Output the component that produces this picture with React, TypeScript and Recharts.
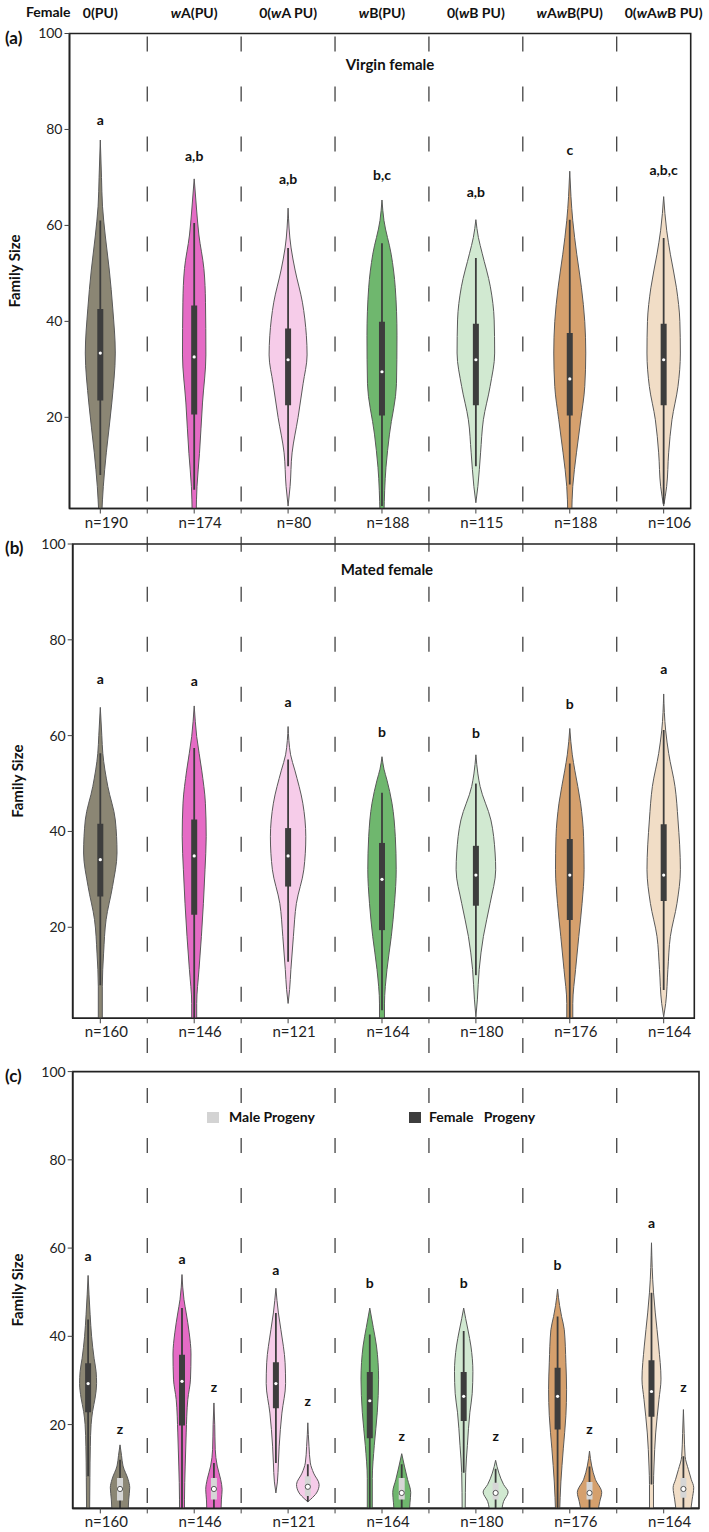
import React from 'react';
import {
  ComposedChart,
  Area,
  Line,
  Scatter,
  XAxis,
  YAxis,
  ReferenceLine,
  ReferenceArea,
} from 'recharts';

const FONT = 'Lato, "Open Sans", Arial, sans-serif';

const groupLabels = ['0(PU)', 'wA(PU)', '0(wA PU)', 'wB(PU)', '0(wB PU)', 'wAwB(PU)', '0(wAwB PU)'];
const violinFills = ['#8b8674', '#e56bc5', '#f6cce9', '#6fb76e', '#d1e9d1', '#d5a06d', '#f1ddc6'];

// (a) virgin females
const virginN = [190, 174, 80, 188, 115, 188, 106];
const virginLetters = ['a', 'a,b', 'a,b', 'b,c', 'a,b', 'c', 'a,b,c'];
const virginLetterAt = [82, 74.5, 69.7, 70.6, 67, 75.8, 71.6];
// [lower whisker, Q1, median, Q3, upper whisker]
const virginStats = [
  [8, 23.5, 33.4, 42.6, 61],
  [4.9, 20.6, 32.6, 43.3, 60.5],
  [9.8, 22.5, 32, 38.5, 55.3],
  [1.5, 20.4, 29.5, 39.9, 56.3],
  [9.8, 22.5, 32, 39.5, 53.2],
  [6, 20.4, 28, 37.6, 61.2],
  [2, 22.5, 32, 39.5, 57.4],
];
// violin outlines: [family size, half width]
const virginShapes = [
  [[0, 1.5], [5.6, 3], [12.6, 6], [23, 11.5], [33.4, 15], [42.6, 12.5], [50.7, 9], [57.8, 5], [64, 2.2], [70, 1.2], [77.8, 0]],
  [[0, 2], [5.6, 2.8], [12.5, 5.3], [23, 8.3], [33, 11.7], [44, 11.3], [51, 9.7], [58, 4.7], [63, 2.5], [69.7, 0]],
  [[1.5, 0], [5.6, 2], [12.6, 4], [20, 10], [27, 15], [33, 19], [37, 18.3], [44, 14.3], [50.7, 7], [55.3, 3], [63.6, 0]],
  [[0, 2], [9.6, 4], [16.5, 7.5], [27, 14.5], [37, 15], [47, 13.3], [54, 9.2], [61, 2], [65.3, 0]],
  [[2.2, 0], [5.6, 2], [12.6, 4.7], [19.5, 7.5], [26.4, 14.2], [33.4, 18.8], [40.3, 18.3], [47.2, 14.5], [54.2, 6.3], [57.5, 2.5], [61.2, 0]],
  [[0, 2], [5.6, 3], [12.6, 6.7], [19.5, 11], [26.4, 15], [33.4, 16], [40, 15], [47, 11.7], [54, 7], [61, 3], [66, 1.2], [71.3, 0]],
  [[1.5, 0], [5.6, 3], [12.6, 5], [19.5, 8.3], [26.4, 14.3], [33.4, 16.7], [40, 16.2], [47, 12.8], [54, 6.7], [59, 3], [66, 0]],
];

// (b) mated females
const matedN = [160, 146, 121, 164, 180, 176, 164];
const matedLetters = ['a', 'a', 'a', 'b', 'b', 'b', 'a'];
const matedLetterAt = [71.8, 71.3, 67.1, 60.8, 60.6, 66.6, 73.9];
const matedStats = [
  [7.9, 26.4, 34.1, 41.6, 56.3],
  [1, 22.6, 34.9, 42.5, 57.4],
  [12.8, 28.5, 34.9, 40.7, 55],
  [2.7, 19.4, 30, 37.6, 48.1],
  [10, 24.5, 30.9, 37, 50],
  [1, 21.5, 30.9, 38.4, 54.2],
  [6.9, 25.5, 30.9, 41.5, 61.2],
];
const matedShapes = [
  [[0, 2], [7.7, 2], [14.6, 3.3], [21.6, 5.8], [28.5, 12.2], [35.5, 16.7], [42.4, 15], [49.4, 7.5], [56.3, 2.5], [60, 1.5], [65.9, 0]],
  [[0, 2.5], [4.1, 2.5], [11.2, 4.8], [18.1, 7.2], [25, 9.2], [32, 10.8], [38.9, 12], [45.9, 11.2], [52.8, 7.5], [59.8, 2.5], [66.2, 0]],
  [[4.1, 0], [7, 1.5], [11.2, 2.8], [18.1, 5.3], [25, 8.3], [32, 15.7], [38.9, 17.7], [45.9, 14.7], [52.8, 6.7], [56, 2.5], [61.9, 0]],
  [[0, 2.5], [4, 2.5], [11.2, 5], [18.1, 9.3], [25, 12.5], [32, 14.2], [38.9, 13.3], [45.9, 10], [50.7, 5], [53, 2], [55.6, 0]],
  [[1.3, 0], [5, 1.5], [11.2, 3.3], [18.1, 7.5], [25, 14.2], [32, 19.8], [35.5, 19.2], [42.4, 15], [49.4, 4.2], [52, 2], [56, 0]],
  [[0, 3], [4.1, 3], [11.2, 5.8], [18.1, 9], [25, 12.3], [32, 14.3], [38.9, 13.8], [45.9, 10.8], [52.8, 5], [56, 2.5], [61.5, 0]],
  [[1.3, 0], [4.1, 2], [11.2, 4.2], [18.1, 6.7], [25, 13.3], [32, 16.7], [42.4, 14.3], [49.4, 11.3], [56.3, 5], [61, 2], [68.7, 0]],
];

// (c) progeny of mated females
const progenyN = [160, 146, 121, 164, 180, 176, 164];
const femaleLetters = ['a', 'a', 'a', 'b', 'b', 'b', 'a'];
const femaleLetterAt = [58.3, 57.5, 55.1, 52, 52, 56.2, 65.7];
const maleLetterAt = [19, 28.5, 25.3, 17.5, 17.5, 19.1, 28.5];
const femaleStats = [
  [8.3, 22.8, 29.3, 33.9, 43.8],
  [1, 19.8, 29.8, 35.8, 46.4],
  [11.3, 23.7, 29.3, 34.1, 45.3],
  [1, 16.9, 25.4, 31.9, 40.4],
  [9.1, 20.8, 26.4, 31.9, 41.2],
  [1, 18.9, 26.4, 32.9, 44.5],
  [6.4, 21.8, 27.5, 34.6, 49.9],
];
const femaleShapes = [
  [[0, 1.5], [8, 1.8], [15, 2.2], [20, 3], [23, 4.5], [26, 7], [29.3, 8.5], [32, 8], [35, 6], [40, 3.5], [45, 2], [53.8, 0]],
  [[0, 2.5], [3.1, 2.5], [10.6, 3.2], [18.1, 4.2], [25.7, 5.8], [30.3, 8.5], [36, 9], [40.8, 7.2], [45.3, 4.2], [48.3, 2], [54, 0]],
  [[4.5, 0], [7, 1.5], [11.3, 2.5], [15.1, 3.3], [22.6, 6], [29.3, 9.7], [34, 9.2], [41.5, 5], [45.3, 2.5], [50.9, 0]],
  [[0, 2.5], [7.8, 2.5], [15.3, 4.5], [22.8, 7.5], [30.3, 8.8], [37.8, 6.7], [42, 3.5], [46.4, 0]],
  [[0, 1.5], [9.1, 2], [15.3, 3.7], [22.8, 6.2], [27, 8.5], [32, 9.2], [37.8, 7.2], [41.2, 4.5], [44, 2], [46.4, 0]],
  [[0, 2], [7, 3.3], [14.5, 5.7], [22, 8.3], [28, 9], [34, 8.3], [41.5, 6.7], [44.5, 4], [47, 2], [50.7, 0]],
  [[0, 2], [6.4, 2], [10.6, 2.5], [18.1, 4.2], [25.7, 7.5], [30.3, 9.5], [37.8, 7.2], [45.3, 3.8], [50, 2], [61.2, 0]],
];
const maleStats = [
  [1, 2.8, 5.4, 7.9, 12],
  [1, 3, 5.4, 7.9, 11.3],
  [2.5, 3.8, 5.9, 8.3, 11],
  [1, 3, 4.5, 7.9, 11],
  [1, 3, 4.5, 6.8, 10],
  [1, 3, 4.5, 7, 10.5],
  [1, 3.4, 5.4, 7.9, 12.8],
];
const maleShapes = [
  [[0, 8], [3.1, 8.7], [5.7, 9.7], [7.6, 8], [10.6, 3], [13, 1.5], [15.4, 0]],
  [[0, 7], [3.1, 7.5], [5.3, 8.2], [7.6, 6.7], [10.6, 3.3], [14.4, 1.3], [20, 0.8], [24.9, 0]],
  [[2.5, 0], [3.1, 3], [4.5, 8.7], [6.4, 11.3], [9, 5.8], [11.3, 2.5], [15, 1.2], [20.4, 0]],
  [[0, 7.5], [2.4, 8.3], [4.6, 9], [7.6, 5.8], [10.6, 2.7], [13.4, 0]],
  [[0, 6], [2.6, 8], [4.7, 12.5], [6.4, 8], [9, 3.3], [11.9, 0]],
  [[0, 8], [2.6, 10.3], [4.6, 12.2], [7.6, 5.8], [10.6, 2.2], [14, 0]],
  [[0, 7], [3.1, 8.8], [5.7, 10.3], [7.6, 7.8], [9.8, 5], [12.8, 1.7], [18, 0.8], [23.4, 0]],
];

const yTicks = [20, 40, 60, 80, 100];
const halfTicks = [0, 0.5, 1, 1.5, 2, 2.5, 3, 3.5, 4, 4.5, 5, 5.5, 6];
const dividers = [0.5, 1.5, 2.5, 3.5, 4.5, 5.5];

const PX = 1 / 93.9; // px -> group units
const FEMALE_OFF = -0.13;
const MALE_OFF = 0.21;
const DARK = '#3d3d3d';

function violin(id: string, pos: number, shape: number[][], stats: number[], fill: string, male = false) {
  const outline = shape.map(([v, w]) => ({ v, lo: pos - w * PX, hi: pos + w * PX }));
  const [wLo, q1, med, q3, wHi] = stats;
  return [
    <Area
      key={id + '-v'}
      data={outline}
      dataKey={(d: any) => [d.lo, d.hi]}
      type="monotone"
      fill={fill}
      fillOpacity={1}
      stroke="#595959"
      strokeWidth={1}
      dot={false}
      activeDot={false}
      isAnimationActive={false}
    />,
    <Line
      key={id + '-w'}
      data={[{ v: wLo, x: pos }, { v: wHi, x: pos }]}
      dataKey="x"
      stroke={DARK}
      strokeWidth={1.8}
      dot={false}
      activeDot={false}
      isAnimationActive={false}
    />,
    <Line
      key={id + '-b'}
      data={[{ v: q1, x: pos }, { v: q3, x: pos }]}
      dataKey="x"
      stroke={male ? '#d6d6d6' : DARK}
      strokeWidth={6}
      dot={false}
      activeDot={false}
      isAnimationActive={false}
    />,
    <Scatter
      key={id + '-m'}
      data={[{ v: med, x: pos }]}
      isAnimationActive={false}
      shape={(p: any) =>
        male ? (
          <circle cx={p.cx} cy={p.cy} r={2.6} fill="#fff" stroke="#555" strokeWidth={1} />
        ) : (
          <circle cx={p.cx} cy={p.cy} r={1.6} fill="#fff" />
        )
      }
    />,
  ];
}

function letters(id: string, data: { x: number; v: number; t: string }[]) {
  return (
    <Scatter
      key={id}
      data={data}
      isAnimationActive={false}
      shape={(p: any) => (
        <text
          x={p.cx}
          y={p.cy}
          dy={5}
          textAnchor="middle"
          fontFamily={FONT}
          fontWeight={700}
          fontSize={14}
          fill="#111"
        >
          {p.payload.t}
        </text>
      )}
    />
  );
}

const nTick = (ns: number[]) => (props: any) => {
  const { x, y, payload } = props;
  const i = Math.round(payload.value);
  if (Math.abs(payload.value - i) > 0.01) return <g />;
  return (
    <text x={x + 6} y={y} dy={12} textAnchor="middle" fontFamily={FONT} fontSize={15} fill="#222">
      {`n=${ns[i]}`}
    </text>
  );
};

const HeaderTick = (props: any) => {
  const { x, y, payload } = props;
  const label = groupLabels[Math.round(payload.value)] || '';
  const parts = label.split(/(w)/).filter((s) => s !== '');
  return (
    <text x={x} y={y} dy={-8} textAnchor="middle" fontFamily={FONT} fontWeight={700} fontSize={14} fill="#111">
      {parts.map((s, k) => (
        <tspan key={k} fontStyle={s === 'w' ? 'italic' : 'normal'}>
          {s}
        </tspan>
      ))}
    </text>
  );
};

interface PanelProps {
  height: number;
  margin: { top: number; right: number; bottom: number; left: number };
  xDomain: [number, number];
  dashFrom: number;
  ns: number[];
  axisHeight: number;
  header?: boolean;
  children: React.ReactNode;
}

function Panel({ height, margin, xDomain, dashFrom, ns, axisHeight, header, children }: PanelProps) {
  return (
    <ComposedChart layout="vertical" width={709} height={height} margin={margin} style={{ fontFamily: FONT }}>
      <XAxis
        type="number"
        dataKey="x"
        domain={xDomain}
        allowDataOverflow
        ticks={halfTicks}
        interval={0}
        tick={nTick(ns)}
        tickSize={5}
        height={axisHeight}
        axisLine={{ stroke: '#222', strokeWidth: 1.6 }}
        tickLine={{ stroke: '#444' }}
      />
      {header && (
        <XAxis
          xAxisId="top"
          orientation="top"
          type="number"
          domain={xDomain}
          allowDataOverflow
          ticks={[0, 1, 2, 3, 4, 5, 6]}
          interval={0}
          tick={HeaderTick}
          tickLine={false}
          axisLine={false}
          height={30}
        />
      )}
      <YAxis
        type="number"
        dataKey="v"
        domain={[1, 100]}
        reversed
        allowDataOverflow
        ticks={yTicks}
        interval={0}
        width={60}
        tickSize={5}
        tick={{ fontSize: 14, fill: '#222', fontFamily: FONT }}
        axisLine={{ stroke: '#222', strokeWidth: 1.6 }}
        tickLine={{ stroke: '#444' }}
        label={{
          value: 'Family Size',
          angle: -90,
          position: 'insideLeft',
          offset: 5,
          style: { fontSize: 15, fontWeight: 700, fill: '#111', fontFamily: FONT, textAnchor: 'middle' },
        }}
      />
      <ReferenceArea
        x1={xDomain[0]}
        x2={xDomain[1]}
        y1={1}
        y2={100}
        fill="none"
        stroke="#222"
        strokeWidth={1.6}
        ifOverflow="visible"
      />
      {dividers.map((d) => (
        <ReferenceLine
          key={'d' + d}
          segment={[
            { x: d, y: dashFrom },
            { x: d, y: 1 },
          ]}
          stroke="#333"
          strokeWidth={1.2}
          strokeDasharray="15 35"
          ifOverflow="visible"
        />
      ))}
      {children}
    </ComposedChart>
  );
}

const textStyle: React.CSSProperties = {
  position: 'absolute',
  fontFamily: FONT,
  color: '#111',
  whiteSpace: 'pre',
  lineHeight: 1,
};

export default function App() {
  const virginSeries = virginShapes.flatMap((s, i) => violin('a' + i, i, s, virginStats[i], violinFills[i]));
  const matedSeries = matedShapes.flatMap((s, i) => violin('b' + i, i, s, matedStats[i], violinFills[i]));
  const progenySeries = femaleShapes.flatMap((s, i) => [
    ...violin('cf' + i, i + FEMALE_OFF, s, femaleStats[i], violinFills[i]),
    ...violin('cm' + i, i + MALE_OFF, maleShapes[i], maleStats[i], violinFills[i], true),
  ]);

  return (
    <div style={{ position: 'absolute', left: 0, top: 0, width: 709, height: 1532, background: '#fff', fontFamily: FONT }}>
      <div style={{ position: 'absolute', left: 0, top: 0 }}>
        <Panel
          height={540}
          margin={{ top: 3.5, right: 18.3, bottom: 5.5, left: 9.5 }}
          xDomain={[-0.328, 6.288]}
          dashFrom={99.4}
          ns={virginN}
          axisHeight={26}
          header
        >
          {virginSeries}
          {letters(
            'la',
            virginLetters.map((t, i) => ({ x: i, v: virginLetterAt[i], t })),
          )}
        </Panel>
      </div>
      <div style={{ position: 'absolute', left: 0, top: 515 }}>
        <Panel
          height={530}
          margin={{ top: 29, right: 14.7, bottom: 2.7, left: 12.7 }}
          xDomain={[-0.294, 6.326]}
          dashFrom={101.5}
          ns={matedN}
          axisHeight={24}
        >
          {matedSeries}
          {letters(
            'lb',
            matedLetters.map((t, i) => ({ x: i, v: matedLetterAt[i], t })),
          )}
        </Panel>
      </div>
      <div style={{ position: 'absolute', left: 0, top: 1030 }}>
        <Panel
          height={502}
          margin={{ top: 41.6, right: 10, bottom: 1.6, left: 12.7 }}
          xDomain={[-0.294, 6.376]}
          dashFrom={107.6}
          ns={progenyN}
          axisHeight={22}
        >
          {progenySeries}
          {letters(
            'lcf',
            femaleLetters.map((t, i) => ({ x: i + FEMALE_OFF, v: femaleLetterAt[i], t })),
          )}
          {letters(
            'lcm',
            maleLetterAt.map((v, i) => ({ x: i + MALE_OFF, v, t: 'z' })),
          )}
        </Panel>
      </div>

      <div style={{ ...textStyle, left: 26, top: 5, fontSize: 14, fontWeight: 700 }}>Female</div>
      <div style={{ ...textStyle, left: 5, top: 29, fontSize: 17, fontWeight: 700 }}>(a)</div>
      <div style={{ ...textStyle, left: 5, top: 539, fontSize: 17, fontWeight: 700 }}>(b)</div>
      <div style={{ ...textStyle, left: 5, top: 1067, fontSize: 17, fontWeight: 700 }}>(c)</div>
      <div style={{ ...textStyle, left: 290, width: 200, textAlign: 'center', top: 57, fontSize: 15, fontWeight: 700 }}>
        Virgin female
      </div>
      <div style={{ ...textStyle, left: 287, width: 200, textAlign: 'center', top: 562, fontSize: 15, fontWeight: 700 }}>
        Mated female
      </div>

      <div style={{ position: 'absolute', left: 207, top: 1111.5, width: 11.5, height: 11.5, background: '#d3d3d3' }} />
      <div style={{ ...textStyle, left: 229, top: 1110, fontSize: 14, fontWeight: 700 }}>Male Progeny</div>
      <div style={{ position: 'absolute', left: 409, top: 1111.5, width: 11.5, height: 11.5, background: '#3d3d3d' }} />
      <div style={{ ...textStyle, left: 429, top: 1110, fontSize: 14, fontWeight: 700 }}>{'Female   Progeny'}</div>
    </div>
  );
}
